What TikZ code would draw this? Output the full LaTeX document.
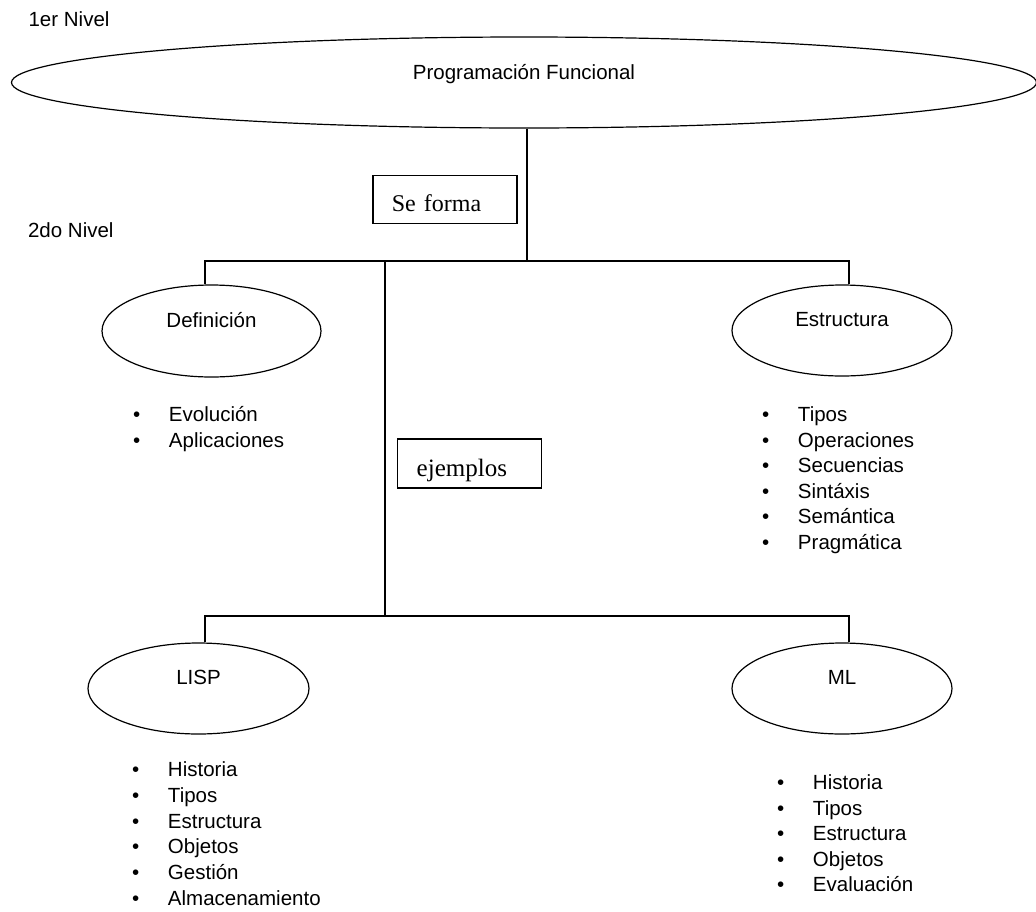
\documentclass[tikz,border=0pt]{standalone}
\usepackage{fontspec}
\setmainfont{Liberation Sans}
\newfontfamily\boxserif{Liberation Serif}
\usetikzlibrary{shapes.geometric}
\newcommand\bitem[1]{\makebox[36pt][l]{\textbullet}#1}
\begin{document}
\begin{tikzpicture}[x=1pt,y=-1pt,line width=1.2pt,
  every node/.style={font=\fontsize{20.5}{25}\selectfont},
  oval/.style={draw,ellipse,inner sep=0pt,minimum width=220pt,minimum height=91pt,text height=0pt,text depth=8pt},
  lblbox/.style={draw,rectangle,inner xsep=19pt,inner ysep=0pt,minimum height=48pt,
     text width=106pt,align=left,text height=25pt,text depth=0pt},
  item/.style={anchor=base west,inner sep=0pt},
  level/.style={anchor=base west,inner sep=0pt}]
\useasboundingbox (0,0) rectangle (1036,911);

% level labels
\node[level] (n1) at (28,26.3) {1er Nivel};
\node[level] (n2) at (27.5,237.3) {2do Nivel};

% ellipses
\node[oval,minimum width=1025pt,text depth=6.5pt] (pf) at (524,82.5) {Programación Funcional};
\node[oval,minimum width=219pt,minimum height=92pt] (def) at (211.5,331) {Definición};
\node[oval] (est) at (842,330.5) {Estructura};
\node[oval,minimum width=221pt,text depth=9pt] (lisp) at (198.5,688.5) {LISP};
\node[oval,text depth=9pt] (ml) at (842,688.5) {ML};

% label boxes
\node[lblbox,font=\boxserif\fontsize{24}{28}\selectfont] (sef) at (444.9,199.4) {Se forma};
\node[lblbox,minimum height=49pt,font=\boxserif\fontsize{25}{29}\selectfont] (ejm) at (469.7,463.5) {ejemplos};

% junction points
\coordinate (ja) at (527,261);
\coordinate (jl) at (205,261);
\coordinate (jm) at (385,261);
\coordinate (jr) at (849,261);
\coordinate (bl) at (205,616);
\coordinate (bm) at (385,616);
\coordinate (br) at (849,616);

% connectors
\draw (ja |- pf.south) -- (ja);
\draw (jl |- def.north) -- (jl) -- (jr) -- (jr |- est.north);
\draw (jm) -- (bm);
\draw (bl |- lisp.north) -- (bl) -- (br) -- (br |- ml.north);

% bullet lists
\foreach \t [count=\i from 0] in {Evolución,Aplicaciones}
  \node[item] (dl\i) at (132.4,{421.5+26*\i}) {\bitem{\t}};
\foreach \t [count=\i from 0] in {Tipos,Operaciones,Secuencias,Sintáxis,Semántica,Pragmática}
  \node[item] (el\i) at (761.4,{421.5+25.6*\i}) {\bitem{\t}};
\foreach \t [count=\i from 0] in {Historia,Tipos,Estructura,Objetos,Gestión,Almacenamiento}
  \node[item] (ll\i) at (131.4,{776.5+25.8*\i}) {\bitem{\t}};
\foreach \t [count=\i from 0] in {Historia,Tipos,Estructura,Objetos,Evaluación}
  \node[item] (ml\i) at (776.4,{789.5+25.5*\i}) {\bitem{\t}};
\end{tikzpicture}
\end{document}
